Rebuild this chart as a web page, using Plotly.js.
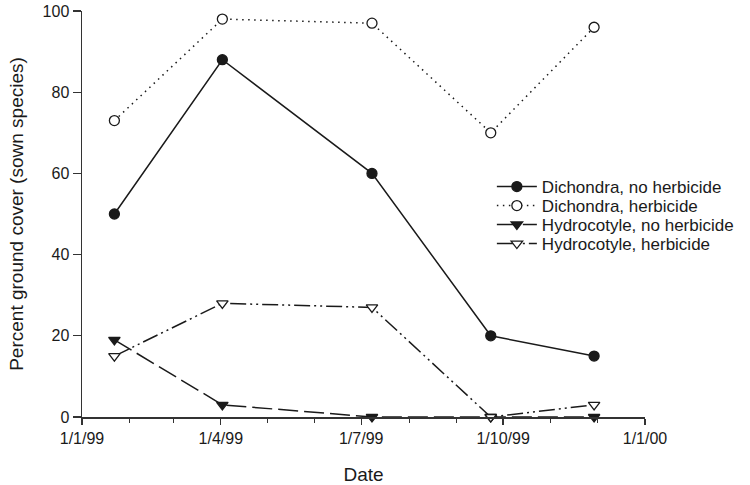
<!DOCTYPE html>
<html>
<head>
<meta charset="utf-8">
<script src="https://cdn.plot.ly/plotly-3.0.1.min.js"></script>
<style>html,body{margin:0;padding:0;background:#fff;}#chart{width:750px;height:485px;}</style>
</head>
<body>
<div id="chart"></div>
<script>
var dates = ['1999-01-22', '1999-04-02', '1999-07-08', '1999-09-23', '1999-11-29'];
var dichondraNoHerb = [50, 88, 60, 20, 15];
var dichondraHerb = [73, 98, 97, 70, 96];
var hydroNoHerb = [19, 3, 0, 0, 0];
var hydroHerb = [15, 28, 27, 0, 3];
var seriesNames = ['Dichondra, no herbicide', 'Dichondra, herbicide', 'Hydrocotyle, no herbicide', 'Hydrocotyle, herbicide'];
var xTitle = 'Date';
var yTitle = 'Percent ground cover (sown species)';

var ink = '#1a1a1a';
var font = 'Liberation Sans, Arial, Helvetica, sans-serif';

function tr(y, name, dash, symbol, filled, legendId) {
  return {
    x: dates, y: y, name: name, type: 'scatter', mode: 'lines+markers',
    cliponaxis: false, legend: legendId,
    line: {color: ink, width: 1.5, dash: dash},
    marker: {symbol: symbol, size: 10, color: filled ? ink : '#ffffff', line: {color: ink, width: 1.3}}
  };
}

var data = [
  tr(dichondraNoHerb, seriesNames[0], 'solid', 'circle', true, 'legend'),
  tr(dichondraHerb, seriesNames[1], '1.5px,4.5px', 'circle', false, 'legend2'),
  tr(hydroNoHerb, seriesNames[2], '20px,6px', 'triangle-down', true, 'legend3'),
  tr(hydroHerb, seriesNames[3], '16px,4px,2px,4px,2px,4px', 'triangle-down', false, 'legend4')
];

function leg(y) {
  return {x: 0.728, xanchor: 'left', y: y, yanchor: 'middle',
          font: {size: 17, family: font, color: ink},
          bgcolor: 'rgba(0,0,0,0)', borderwidth: 0, itemwidth: 40};
}

var layout = {
  width: 750, height: 485,
  margin: {l: 82, r: 80, t: 11, b: 68},
  paper_bgcolor: '#fff', plot_bgcolor: '#fff',
  font: {family: font, color: ink, size: 16},
  showlegend: true,
  legend: leg(0.5665),
  legend2: leg(0.5197),
  legend3: leg(0.473),
  legend4: leg(0.4261),
  xaxis: {
    type: 'date', range: ['1999-01-01', '2000-01-01'],
    tick0: '1999-01-01', dtick: 'M3', tickformat: '%-d/%-m/%y',
    ticks: 'outside', ticklen: 6, tickwidth: 1.3, tickcolor: '#333',
    minor: {dtick: 'M1', ticks: 'outside', ticklen: 4, tickwidth: 1, tickcolor: '#333', showgrid: false},
    showline: true, linecolor: '#333', linewidth: 1.5,
    showgrid: false, zeroline: false,
    tickfont: {size: 16, family: font, color: ink},
    title: {text: xTitle, font: {size: 19, family: font, color: ink}, standoff: 22}
  },
  yaxis: {
    range: [0, 100], dtick: 20, tick0: 0,
    ticks: 'outside', ticklen: 8, tickwidth: 1.3, tickcolor: '#333',
    showline: true, linecolor: '#333', linewidth: 1.5,
    showgrid: false, zeroline: false,
    tickfont: {size: 16, family: font, color: ink},
    title: {text: yTitle, font: {size: 19, family: font, color: ink}, standoff: 14}
  }
};

Plotly.newPlot('chart', data, layout, {displayModeBar: false, staticPlot: true});
</script>
</body>
</html>
